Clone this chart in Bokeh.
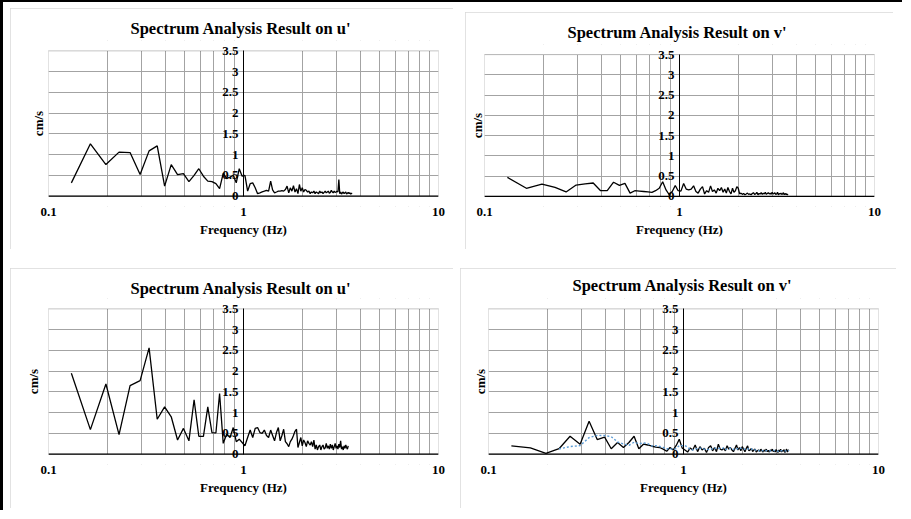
from bokeh.plotting import figure
from bokeh.models import (Range1d, FixedTicker, CustomJSTickFormatter, ColumnDataSource,
                          Title, BoxAnnotation, Span)
from bokeh.layouts import row, column
from bokeh.embed import file_html
from bokeh.resources import INLINE
import pandas as pd

# ---------------- data ----------------
FREQ_HZ = [
    0.131, 0.164, 0.197, 0.230, 0.262, 0.295, 0.328, 0.361, 0.394, 0.426,
    0.459, 0.492, 0.525, 0.558, 0.590, 0.623, 0.656, 0.689, 0.722, 0.754,
    0.787, 0.820, 0.853, 0.886, 0.918, 0.951, 0.984, 1.017, 1.050, 1.082,
    1.115, 1.148, 1.181, 1.214, 1.246, 1.279, 1.312, 1.345, 1.378, 1.410,
    1.443, 1.476, 1.509, 1.542, 1.574, 1.607, 1.640, 1.673, 1.706, 1.738,
    1.771, 1.804, 1.837, 1.870, 1.902, 1.935, 1.968, 2.001, 2.034, 2.066,
    2.099, 2.132, 2.165, 2.198, 2.230, 2.263, 2.296, 2.329, 2.362, 2.394,
    2.427, 2.460, 2.493, 2.526, 2.558, 2.591, 2.624, 2.657, 2.690, 2.722,
    2.755, 2.788, 2.821, 2.854, 2.886, 2.919, 2.952, 2.985, 3.018, 3.050,
    3.083, 3.116, 3.149, 3.182, 3.214, 3.247, 3.280, 3.313, 3.346, 3.378,
    3.411, 3.444, 3.477, 3.510, 3.542, 3.575, 3.608,
]

U_TOP = [
    0.32, 1.26, 0.76, 1.06, 1.05, 0.52, 1.09, 1.21, 0.24, 0.76,
    0.52, 0.54, 0.35, 0.50, 0.66, 0.48, 0.36, 0.35, 0.30, 0.18,
    0.55, 0.42, 0.46, 0.50, 0.32, 0.66, 0.48, 0.50, 0.12, 0.30,
    0.32, 0.20, 0.06, 0.08, 0.10, 0.12, 0.14, 0.12, 0.36, 0.15,
    0.08, 0.10, 0.12, 0.12, 0.13, 0.12, 0.16, 0.24, 0.08, 0.20,
    0.12, 0.25, 0.10, 0.18, 0.06, 0.28, 0.12, 0.20, 0.10, 0.16,
    0.14, 0.10, 0.12, 0.06, 0.10, 0.08, 0.12, 0.06, 0.10, 0.08,
    0.06, 0.12, 0.08, 0.10, 0.06, 0.09, 0.12, 0.08, 0.10, 0.12,
    0.07, 0.09, 0.14, 0.10, 0.08, 0.12, 0.09, 0.10, 0.12, 0.10,
    0.40, 0.06, 0.10, 0.05, 0.08, 0.10, 0.06, 0.08, 0.10, 0.05,
    0.07, 0.09, 0.06, 0.08, 0.05, 0.07, 0.06,
]

V_TOP = [
    0.47, 0.20, 0.30, 0.22, 0.11, 0.28, 0.31, 0.33, 0.14, 0.14,
    0.35, 0.27, 0.32, 0.08, 0.14, 0.13, 0.12, 0.11, 0.10, 0.14,
    0.20, 0.36, 0.16, 0.04, 0.12, 0.27, 0.14, 0.13, 0.32, 0.18,
    0.16, 0.18, 0.26, 0.12, 0.08, 0.18, 0.24, 0.06, 0.14, 0.10,
    0.26, 0.12, 0.16, 0.08, 0.20, 0.14, 0.22, 0.10, 0.18, 0.08,
    0.22, 0.12, 0.06, 0.20, 0.10, 0.14, 0.24, 0.20, 0.06, 0.08,
    0.05, 0.07, 0.04, 0.06, 0.08, 0.05, 0.06, 0.04, 0.07, 0.09,
    0.05, 0.06, 0.10, 0.04, 0.07, 0.06, 0.09, 0.05, 0.08, 0.06,
    0.10, 0.05, 0.07, 0.09, 0.06, 0.08, 0.05, 0.10, 0.06, 0.07,
    0.09, 0.05, 0.06, 0.10, 0.04, 0.07, 0.06, 0.08, 0.05, 0.06,
    0.09, 0.04, 0.07, 0.05, 0.06, 0.04, 0.05,
]

U_BOTTOM = [
    1.95, 0.59, 1.69, 0.47, 1.65, 1.77, 2.56, 0.84, 1.14, 0.90,
    0.34, 0.62, 0.32, 1.31, 0.43, 0.43, 1.14, 0.52, 0.51, 1.46,
    0.26, 0.48, 0.40, 0.64, 0.30, 0.36, 0.28, 0.20, 0.40, 0.58,
    0.40, 0.62, 0.64, 0.52, 0.50, 0.58, 0.45, 0.40, 0.58, 0.45,
    0.32, 0.52, 0.64, 0.32, 0.45, 0.60, 0.30, 0.25, 0.18, 0.30,
    0.36, 0.45, 0.55, 0.60, 0.16, 0.28, 0.40, 0.20, 0.34, 0.28,
    0.18, 0.32, 0.26, 0.22, 0.30, 0.18, 0.34, 0.12, 0.22, 0.10,
    0.18, 0.22, 0.10, 0.18, 0.22, 0.12, 0.15, 0.26, 0.14, 0.20,
    0.12, 0.24, 0.14, 0.22, 0.10, 0.18, 0.26, 0.14, 0.20, 0.12,
    0.24, 0.16, 0.32, 0.12, 0.18, 0.10, 0.20, 0.14, 0.22, 0.16,
    0.12, 0.20,
]

V_BOTTOM = [
    0.20, 0.15, 0.02, 0.13, 0.43, 0.24, 0.79, 0.35, 0.41, 0.13,
    0.28, 0.16, 0.28, 0.43, 0.13, 0.24, 0.22, 0.19, 0.17, 0.16,
    0.12, 0.07, 0.16, 0.10, 0.21, 0.36, 0.15, 0.10, 0.05, 0.15,
    0.10, 0.22, 0.06, 0.18, 0.10, 0.14, 0.04, 0.16, 0.20, 0.08,
    0.16, 0.06, 0.24, 0.12, 0.10, 0.14, 0.08, 0.20, 0.12, 0.16,
    0.10, 0.06, 0.14, 0.22, 0.10, 0.16, 0.08, 0.18, 0.12, 0.06,
    0.14, 0.20, 0.08, 0.10, 0.14, 0.06, 0.10, 0.12, 0.05, 0.08,
    0.10, 0.06, 0.12, 0.08, 0.05, 0.10, 0.07, 0.12, 0.06, 0.09,
    0.05, 0.10, 0.08, 0.12, 0.06, 0.09, 0.05, 0.11, 0.07, 0.04,
    0.10, 0.06, 0.12, 0.05, 0.09, 0.07, 0.11, 0.04, 0.08, 0.12,
    0.05, 0.09, 0.10,
]

MOVING_AVG_PERIOD = 4  # Excel-style moving-average trendline on the bottom v' series

TITLES = ["Spectrum Analysis Result on u'", "Spectrum Analysis Result on v'",
          "Spectrum Analysis Result on u'", "Spectrum Analysis Result on v'"]
X_MIN, X_MAX = 0.1, 10
Y_MIN, Y_MAX = 0, 3.5
X_TICKS = [0.1, 1, 10]
X_GRID = [0.2, 0.3, 0.4, 0.5, 0.6, 0.7, 0.8, 0.9, 2, 3, 4, 5, 6, 7, 8, 9]
Y_TICKS = [0, 0.5, 1, 1.5, 2, 2.5, 3, 3.5]
X_LABEL = "Frequency (Hz)"
Y_LABEL = "cm/s"

# ---------------- style ----------------
FONT = "Liberation Serif"
GRID = "#a3a3a3"
FMT = "return String(tick)"
Y_PAD = 0.25  # blank room above/below the plotted box so the axis labels at 0 and 3.5 are not cut


def make_panel(title, values, width, height, borders, margin, cm_standoff, title_standoff,
               title_offset, smooth=False):
    bl, br, bt, bb = borders
    p = figure(width=width, height=height, x_axis_type="log",
               x_range=Range1d(X_MIN, X_MAX), y_range=Range1d(Y_MIN - Y_PAD, Y_MAX + Y_PAD),
               output_backend="svg", toolbar_location=None,
               min_border_left=bl, min_border_right=br, min_border_top=bt, min_border_bottom=bb,
               title=title, margin=margin,
               stylesheets=[":host { outline: 1px solid #d9d9d9; outline-offset: -1px; }"])
    p.background_fill_color = "white"
    p.border_fill_color = "white"
    p.outline_line_color = None

    p.title.align = "left"
    p.title.offset = title_offset
    p.title.text_font = FONT
    p.title.text_font_size = "16.5px"
    p.title.text_font_style = "bold"
    p.title.text_color = "black"
    p.title.standoff = title_standoff

    xa = p.xaxis[0]
    xa.ticker = FixedTicker(ticks=X_TICKS)
    xa.formatter = CustomJSTickFormatter(code=FMT)
    xa.major_tick_out = 0
    xa.major_tick_in = 0
    xa.minor_tick_out = 0
    xa.minor_tick_in = 0
    xa.axis_line_color = None
    xa.major_label_text_font = FONT
    xa.major_label_text_font_size = "13px"
    xa.major_label_text_font_style = "bold"
    xa.major_label_text_color = "black"
    xa.major_label_standoff = 1
    xa.axis_label = X_LABEL
    xa.axis_label_text_font = FONT
    xa.axis_label_text_font_size = "13px"
    xa.axis_label_text_font_style = "bold"
    xa.axis_label_text_color = "black"
    xa.axis_label_standoff = 3

    ya = p.yaxis[0]
    ya.fixed_location = 1
    ya.bounds = (Y_MIN, Y_MAX)
    ya.ticker = FixedTicker(ticks=Y_TICKS)
    ya.formatter = CustomJSTickFormatter(code=FMT)
    ya.major_tick_out = 0
    ya.major_tick_in = 0
    ya.minor_tick_out = 0
    ya.minor_tick_in = 0
    ya.axis_line_color = "black"
    ya.major_label_text_font = FONT
    ya.major_label_text_font_size = "13px"
    ya.major_label_text_font_style = "bold"
    ya.major_label_text_color = "black"
    ya.major_label_standoff = 5

    p.xgrid.ticker = FixedTicker(ticks=X_GRID)
    p.xgrid.grid_line_color = GRID
    p.ygrid.ticker = FixedTicker(ticks=Y_TICKS)
    p.ygrid.grid_line_color = GRID

    # white masks over the padding strips, then the plot-area border
    p.add_layout(BoxAnnotation(top=Y_MIN, fill_color="white", fill_alpha=1, line_color=None,
                               level="underlay"))
    p.add_layout(BoxAnnotation(bottom=Y_MAX, fill_color="white", fill_alpha=1, line_color=None,
                               level="underlay"))
    p.add_layout(BoxAnnotation(left=X_MIN, right=X_MAX, bottom=Y_MIN, top=Y_MAX,
                               fill_color=None, fill_alpha=0, line_color="#404040",
                               line_width=1, level="underlay"))
    p.add_layout(Span(location=Y_MIN, dimension="width", line_color="black", line_width=1.2))

    # vertical unit label on the left
    p.add_layout(Title(text=Y_LABEL, align="center", standoff=cm_standoff, text_font=FONT,
                       text_font_size="13px", text_font_style="bold", text_color="black"),
                 "left")

    n = len(values)
    src = ColumnDataSource(data=dict(f=FREQ_HZ[:n], v=values))
    p.line(x="f", y="v", source=src, line_color="black", line_width=1.3)
    if smooth:
        ma = pd.Series(values).rolling(MOVING_AVG_PERIOD).mean()
        df = pd.DataFrame(dict(f=FREQ_HZ[:n], v=ma)).dropna()
        p.line(x="f", y="v", source=ColumnDataSource(df), line_color="#5b9bd5",
               line_width=1.4, line_dash="2 2")
    return p


p1 = make_panel(TITLES[0], U_TOP, 443, 241, (38, 15, 32, 43), (0, 0, 0, 2), 5, 6, 82)
p2 = make_panel(TITLES[1], V_TOP, 428, 237, (19, 19, 30, 41), (4, 0, 0, 12), 0, 6, 83)
p3 = make_panel(TITLES[2], U_BOTTOM, 443, 240, (38, 15, 30, 44), (19, 0, 10, 2), 16, 1, 82)
p4 = make_panel(TITLES[3], V_BOTTOM, 436, 240, (28, 18, 30, 44), (19, 14, 0, 7), 2, 8, 84,
                smooth=True)

layout = column(row(p1, p2), row(p3, p4), margin=(8, 0, 0, 8),
                stylesheets=[":host { box-shadow: -5px -6px 0 0 white, -8px -8px 0 0 black; }"])

open("out.html", "w").write(file_html(layout, INLINE))
